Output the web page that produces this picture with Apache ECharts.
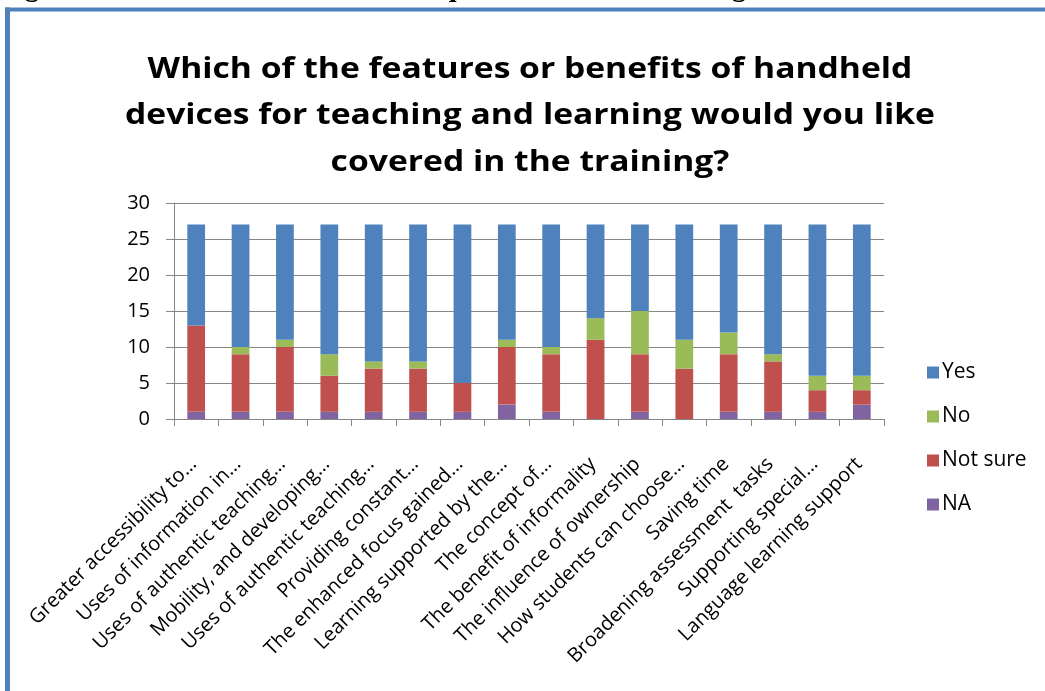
<!DOCTYPE html>
<html>
<head>
<meta charset="utf-8">
<script src="https://cdn.jsdelivr.net/npm/echarts@6/dist/echarts.min.js"></script>
<style>
  html, body { margin: 0; padding: 0; background: #ffffff; }
  #chart { width: 1045px; height: 691px; }
</style>
</head>
<body>
<div id="chart"></div>
<script>
// Features / benefits of handheld devices requested for training
const titleText = 'Which of the features or benefits of handheld\ndevices for teaching and learning would you like\ncovered in the training?';
const captionText = 'Figure 3-17: Features and benefits requested from the training sessions';
const categories = [
  'Greater accessibility to…',
  'Uses of information in…',
  'Uses of authentic teaching…',
  'Mobility, and developing…',
  'Uses of authentic teaching…',
  'Providing constant…',
  'The enhanced focus gained…',
  'Learning supported by the…',
  'The concept of…',
  'The benefit of informality',
  'The influence of ownership',
  'How students can choose…',
  'Saving time',
  'Broadening assessment  tasks',
  'Supporting special…',
  'Language learning support'
];
const naValues      = [1, 1, 1, 1, 1, 1, 1, 2, 1, 0, 1, 0, 1, 1, 1, 2];
const notSureValues = [12, 8, 9, 5, 6, 6, 4, 8, 8, 11, 8, 7, 8, 7, 3, 2];
const noValues      = [0, 1, 1, 3, 1, 1, 0, 1, 1, 3, 6, 4, 3, 1, 2, 2];
const yesValues     = [14, 17, 16, 18, 19, 19, 22, 16, 17, 13, 12, 16, 15, 18, 21, 21];
const yTicks = { min: 0, max: 30, interval: 5 };

const colors = { yes: '#4F81BD', no: '#9BBB59', notSure: '#C0504D', na: '#8064A2' };
const font = '"Open Sans", Lato, sans-serif';

const chart = echarts.init(document.getElementById('chart'), null, { renderer: 'canvas' });

function barSeries(name, data, color) {
  return {
    name: name,
    type: 'bar',
    stack: 'total',
    data: data,
    barWidth: '40%',
    itemStyle: { color: color },
    emphasis: { disabled: true }
  };
}

chart.setOption({
  animation: false,
  backgroundColor: '#ffffff',
  legend: {
    orient: 'vertical',
    left: 922,
    top: 357,
    itemWidth: 12,
    itemHeight: 12,
    itemGap: 23,
    icon: 'rect',
    data: ['Yes', 'No', 'Not sure', 'NA'],
    textStyle: { fontFamily: font, fontSize: 21, color: '#000000', padding: [0, 0, 0, -2] }
  },
  grid: { left: 174, right: 161, top: 203, bottom: 272, containLabel: false },
  xAxis: {
    type: 'category',
    data: categories,
    boundaryGap: true,
    axisLine: { lineStyle: { color: '#868686', width: 1 } },
    axisTick: { show: true, alignWithLabel: false, length: 7, lineStyle: { color: '#868686' } },
    axisLabel: {
      rotate: 45,
      interval: 0,
      margin: 25,
      align: 'right',
      verticalAlign: 'top',
      padding: [0, 14, 0, 0],
      fontFamily: font,
      fontSize: 20,
      color: '#000000'
    }
  },
  yAxis: {
    type: 'value',
    min: yTicks.min,
    max: yTicks.max,
    interval: yTicks.interval,
    axisLine: { show: true, lineStyle: { color: '#868686', width: 1 } },
    axisTick: { show: true, length: 8, inside: false, lineStyle: { color: '#868686' } },
    axisLabel: { fontFamily: font, fontSize: 20, color: '#000000', margin: 24 },
    splitLine: { show: true, lineStyle: { color: '#868686', width: 1 } }
  },
  series: [
    barSeries('NA', naValues, colors.na),
    barSeries('Not sure', notSureValues, colors.notSure),
    barSeries('No', noValues, colors.no),
    barSeries('Yes', yesValues, colors.yes)
  ],
  graphic: [
    // chart title, set in a wide bold face
    {
      type: 'text',
      x: 530,
      y: 46,
      scaleX: 1.16,
      style: {
        x: 0,
        y: 0,
        text: titleText,
        font: 'bold 29px "Open Sans", Lato, sans-serif',
        lineHeight: 46.5,
        fill: '#000000',
        align: 'center',
        verticalAlign: 'top'
      }
    },
    // figure caption above the chart frame
    {
      type: 'text',
      x: 0,
      y: 3,
      style: {
        text: captionText,
        font: 'bold 28px "Liberation Serif", serif',
        fill: '#000000',
        verticalAlign: 'bottom'
      }
    },
    // chart frame (top and left edges)
    {
      type: 'line',
      shape: { x1: 5, y1: 9.5, x2: 1045, y2: 9.5 },
      style: { stroke: '#4F81BD', lineWidth: 4 }
    },
    {
      type: 'line',
      shape: { x1: 7.5, y1: 7.5, x2: 7.5, y2: 691 },
      style: { stroke: '#4F81BD', lineWidth: 5 }
    }
  ]
});
</script>
</body>
</html>
